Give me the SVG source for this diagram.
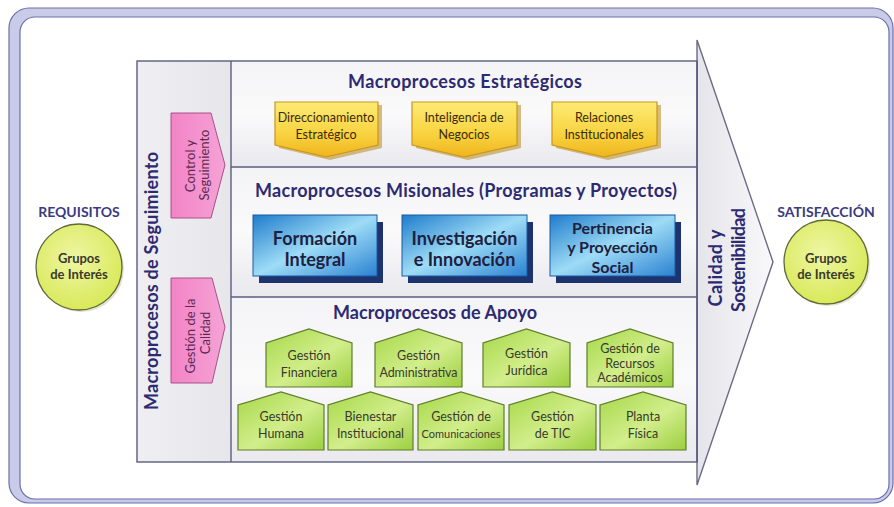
<svg xmlns="http://www.w3.org/2000/svg" width="894" height="507" viewBox="0 0 894 507">
<defs>
<linearGradient id="gPanel" x1="0" y1="0" x2="0" y2="1"><stop offset="0" stop-color="#f4f4f6"/><stop offset="0.5" stop-color="#fafafb"/><stop offset="1" stop-color="#e9e9ee"/></linearGradient>
<linearGradient id="gCol" x1="0" y1="0" x2="1" y2="0"><stop offset="0" stop-color="#efeff2"/><stop offset="1" stop-color="#e6e6eb"/></linearGradient>
<linearGradient id="gArrow" x1="0" y1="0" x2="1" y2="0"><stop offset="0" stop-color="#e4e4ea"/><stop offset="1" stop-color="#f9f9fb"/></linearGradient>
<linearGradient id="gYel" x1="0" y1="0" x2="0" y2="1"><stop offset="0" stop-color="#fdeb74"/><stop offset="0.6" stop-color="#f8d23e"/><stop offset="1" stop-color="#efb41c"/></linearGradient>
<linearGradient id="gBlue" x1="0" y1="0" x2="1" y2="1"><stop offset="0" stop-color="#1f7ccc"/><stop offset="0.5" stop-color="#9edcf6"/><stop offset="1" stop-color="#2a82d2"/></linearGradient>
<linearGradient id="gGreen" x1="0" y1="0" x2="1" y2="1"><stop offset="0" stop-color="#a6d848"/><stop offset="0.55" stop-color="#d2ee8c"/><stop offset="1" stop-color="#9ccf40"/></linearGradient>
<linearGradient id="gPink" x1="0" y1="0" x2="1" y2="0"><stop offset="0" stop-color="#f383c6"/><stop offset="1" stop-color="#f5a3d5"/></linearGradient>
<radialGradient id="gCirc" cx="0.45" cy="0.4" r="0.6"><stop offset="0" stop-color="#eef6a4"/><stop offset="1" stop-color="#d9e95a"/></radialGradient>
<style>
.ttl{font-family:Lato,"Liberation Sans",sans-serif;font-weight:bold;font-size:18px;fill:#2d2a72;text-anchor:middle;}
.line{stroke:#5c5c80;stroke-width:1.4;fill:none;}
.yel{fill:url(#gYel);stroke:#c8951e;stroke-width:1.2;}
.ysh{fill:#b88a1a;opacity:0.55;}
.ytx{font-family:Lato,"Liberation Sans",sans-serif;font-size:12.5px;fill:#3a2a0a;text-anchor:middle;}
.blu{fill:url(#gBlue);stroke:#1a5aa0;stroke-width:1;}
.bsh{fill:#1c3370;}
.btx{font-family:Lato,"Liberation Sans",sans-serif;font-weight:bold;font-size:18px;fill:#1e2040;text-anchor:middle;}
.btx3{font-family:Lato,"Liberation Sans",sans-serif;font-weight:bold;font-size:16px;fill:#1e2040;text-anchor:middle;}
.grn{fill:url(#gGreen);stroke:#5f7d2a;stroke-width:1.2;}
.gtx{font-family:Lato,"Liberation Sans",sans-serif;font-size:12.5px;fill:#3a3a2c;text-anchor:middle;}
.gsm{font-family:Lato,"Liberation Sans",sans-serif;font-size:11px;fill:#3a3a2c;text-anchor:middle;}
.pnk{fill:url(#gPink);stroke:#a8508a;stroke-width:1;}
.ptx{font-family:Lato,"Liberation Sans",sans-serif;font-size:13px;fill:#5a2a50;text-anchor:middle;}
.circ{fill:url(#gCirc);stroke:#5f6838;stroke-width:1.3;}
.ctx{font-family:Lato,"Liberation Sans",sans-serif;font-weight:bold;font-size:13px;fill:#3a3a2a;text-anchor:middle;}
.lbl{font-family:Lato,"Liberation Sans",sans-serif;font-weight:bold;font-size:14px;fill:#3b3b80;text-anchor:middle;}
</style>
</defs>

<g id="frame">
<rect x="9" y="8" width="884" height="495" rx="20" fill="#c9cbe9" stroke="#6a70a8" stroke-width="1.2"/>
<rect x="20" y="17" width="869" height="482" rx="15" fill="#ffffff" stroke="#6a70a8" stroke-width="1.2"/>
</g>

<g id="quality-arrow">
<polygon points="697,40 773,262 697,485" fill="url(#gArrow)" stroke="#6a6a88" stroke-width="1.4"/>
<text class="ttl" transform="translate(722,268) rotate(-90)" textLength="77">Calidad  y</text>
<text class="ttl" transform="translate(745,260) rotate(-90)" textLength="104">Sostenibilidad</text>
</g>

<g id="panels">
<rect x="137" y="61" width="94" height="401" fill="url(#gCol)"/>
<rect x="231" y="61" width="466" height="106" fill="url(#gPanel)"/>
<rect x="231" y="167" width="466" height="130" fill="url(#gPanel)"/>
<rect x="231" y="297" width="466" height="165" fill="url(#gPanel)"/>
<rect class="line" x="137" y="61" width="560" height="401"/>
<line class="line" x1="231" y1="61" x2="231" y2="462"/>
<line class="line" x1="231" y1="167" x2="697" y2="167"/>
<line class="line" x1="231" y1="297" x2="697" y2="297"/>
<line class="line" x1="697" y1="61" x2="697" y2="462"/>
</g>

<g id="seguimiento">
<text class="ttl" transform="translate(158,281) rotate(-90)" textLength="258">Macroprocesos de Seguimiento</text>
</g>

<g id="control-seguimiento">
<polygon class="pnk" points="171,113 211,113 225,165 211,218 171,218"/>
<text class="ptx" transform="translate(195,166) rotate(-90)">Control  y</text>
<text class="ptx" transform="translate(209,165) rotate(-90)">Seguimiento</text>
</g>
<g id="gestion-calidad">
<polygon class="pnk" points="171,278 212,278 225,327 212,383 171,383"/>
<text class="ptx" transform="translate(195,336) rotate(-90)">Gestión de la</text>
<text class="ptx" transform="translate(210,333) rotate(-90)">Calidad</text>
</g>

<g id="requisitos">
<text class="lbl" x="79" y="217">REQUISITOS</text>
<circle cx="81" cy="269" r="43" fill="#c8c8a0" opacity="0.5"/>
<circle class="circ" cx="79" cy="267" r="43"/>
<text class="ctx" x="79" y="263">Grupos</text>
<text class="ctx" x="79" y="279">de Interés</text>
</g>

<g id="satisfaccion">
<text class="lbl" x="826" y="217">SATISFACCIÓN</text>
<circle cx="828" cy="264" r="42" fill="#c8c8a0" opacity="0.5"/>
<circle class="circ" cx="826" cy="262" r="42"/>
<text class="ctx" x="826" y="263">Grupos</text>
<text class="ctx" x="826" y="279">de Interés</text>
</g>

<g id="estrategicos">
<text class="ttl" x="465" y="88" textLength="234">Macroprocesos Estratégicos</text>
</g>
<g id="direccionamiento">
<polygon class="ysh" points="279,105 382,105 382,148 330,160 279,148"/>
<polygon class="yel" points="275,102 378,102 378,145 326,157 275,145"/>
<text class="ytx" x="326" y="122">Direccionamiento</text>
<text class="ytx" x="326" y="139">Estratégico</text>
</g>
<g id="inteligencia">
<polygon class="ysh" points="416,105 521,105 521,148 468,160 416,148"/>
<polygon class="yel" points="412,102 517,102 517,145 464,157 412,145"/>
<text class="ytx" x="464" y="122">Inteligencia de</text>
<text class="ytx" x="464" y="139">Negocios</text>
</g>
<g id="relaciones">
<polygon class="ysh" points="556,105 661,105 661,148 608,160 556,148"/>
<polygon class="yel" points="552,102 657,102 657,145 604,157 552,145"/>
<text class="ytx" x="604" y="122">Relaciones</text>
<text class="ytx" x="604" y="139">Institucionales</text>
</g>

<g id="misionales">
<text class="ttl" x="466" y="197" textLength="422">Macroprocesos Misionales (Programas y Proyectos)</text>
</g>
<g id="formacion">
<rect class="bsh" x="259" y="222" width="124" height="61"/>
<rect class="blu" x="253" y="215" width="124" height="61"/>
<text class="btx" x="315" y="245">Formación</text>
<text class="btx" x="315" y="266">Integral</text>
</g>
<g id="investigacion">
<rect class="bsh" x="408" y="222" width="125" height="61"/>
<rect class="blu" x="402" y="215" width="125" height="61"/>
<text class="btx" x="464.5" y="245">Investigación</text>
<text class="btx" x="464.5" y="266">e Innovación</text>
</g>
<g id="pertinencia">
<rect class="bsh" x="556" y="222" width="125" height="61"/>
<rect class="blu" x="550" y="215" width="125" height="61"/>
<text class="btx3" x="612.5" y="233.5">Pertinencia</text>
<text class="btx3" x="612.5" y="253">y Proyección</text>
<text class="btx3" x="612.5" y="272.5">Social</text>
</g>

<g id="apoyo">
<text class="ttl" x="435" y="319" textLength="204">Macroprocesos de Apoyo</text>
</g>
<g id="financiera">
<polygon class="grn" points="266,387 266,343 309,329 352,343 352,387"/>
<text class="gtx" x="309" y="360">Gestión</text>
<text class="gtx" x="309" y="377">Financiera</text>
</g>
<g id="administrativa">
<polygon class="grn" points="375,387 375,343 418.5,329 462,343 462,387"/>
<text class="gtx" x="418.5" y="360">Gestión</text>
<text class="gtx" x="418.5" y="377" textLength="78">Administrativa</text>
</g>
<g id="juridica">
<polygon class="grn" points="483,387 483,343 526.5,329 570,343 570,387"/>
<text class="gtx" x="526.5" y="358">Gestión</text>
<text class="gtx" x="526.5" y="375">Jurídica</text>
</g>
<g id="recursos">
<polygon class="grn" points="587,387 587,343 630,329 673,343 673,387"/>
<text class="gtx" x="630" y="353">Gestión de</text>
<text class="gtx" x="630" y="368">Recursos</text>
<text class="gtx" x="630" y="382">Académicos</text>
</g>
<g id="humana">
<polygon class="grn" points="238,450 238,405 281,392 324,405 324,450"/>
<text class="gtx" x="281" y="421">Gestión</text>
<text class="gtx" x="281" y="438">Humana</text>
</g>
<g id="bienestar">
<polygon class="grn" points="328,450 328,405 370.5,392 413,405 413,450"/>
<text class="gtx" x="370.5" y="421">Bienestar</text>
<text class="gtx" x="370.5" y="438">Institucional</text>
</g>
<g id="comunicaciones">
<polygon class="grn" points="418,450 418,405 461,392 504,405 504,450"/>
<text class="gtx" x="461" y="421">Gestión de</text>
<text class="gsm" x="461" y="438">Comunicaciones</text>
</g>
<g id="tic">
<polygon class="grn" points="509,450 509,405 552.5,392 596,405 596,450"/>
<text class="gtx" x="552.5" y="421">Gestión</text>
<text class="gtx" x="552.5" y="438">de TIC</text>
</g>
<g id="planta">
<polygon class="grn" points="600,450 600,405 643,392 686,405 686,450"/>
<text class="gtx" x="643" y="421">Planta</text>
<text class="gtx" x="643" y="438">Física</text>
</g>

<g id="connectors"></g>
</svg>
